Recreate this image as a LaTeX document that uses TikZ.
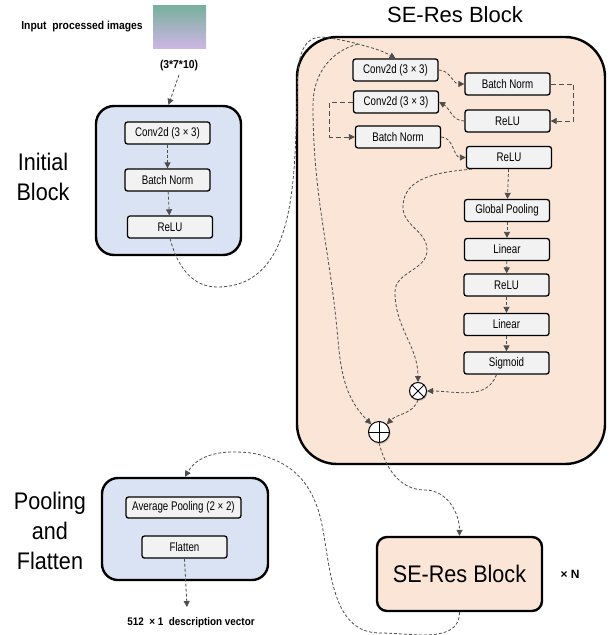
\documentclass[tikz,border=0pt]{standalone}
\usepackage{fontspec}
\setmainfont{Liberation Sans}
\newfontfamily\boxfont[FakeStretch=0.78]{Liberation Sans}
\newfontfamily\tagfont[FakeStretch=0.9]{Liberation Sans}
\usetikzlibrary{arrows.meta,shadows}
\definecolor{iniblue}{HTML}{DAE3F3}
\definecolor{sepeach}{HTML}{FBE5D6}
\definecolor{laygray}{HTML}{F2F2F2}
\definecolor{linkgray}{HTML}{4D4D4D}
\definecolor{imgtop}{HTML}{78B09C}
\definecolor{imgmid}{HTML}{A8B6C6}
\definecolor{imgbot}{HTML}{CCB6E4}

\begin{document}
\begin{tikzpicture}[x=1pt,y=-1pt,
  every node/.style={font=\boxfont\fontsize{12.5}{14}\selectfont},
  blk/.style={draw,line width=2.4pt,rounded corners=16pt,inner sep=0pt},
  lay/.style={draw,line width=1.3pt,rounded corners=2.5pt,fill=laygray,minimum width=85pt,minimum height=22pt,inner sep=0pt},
  flow/.style={linkgray,line width=0.8pt,dash pattern=on 3pt off 2pt,-{Triangle[length=6pt,width=6pt]}},
  op/.style={circle,draw,line width=1pt,fill=white,inner sep=0pt,drop shadow={opacity=0.35,shadow xshift=1pt,shadow yshift=-1.5pt}},
  big/.style={font=\tagfont\fontsize{24}{30}\selectfont,align=center},
  note/.style={font=\tagfont\bfseries\fontsize{11.5}{13}\selectfont}]
  \useasboundingbox (0,0) rectangle (614,635);

  % input
  \node[note] (inp) at (82,27) {Input\ \ processed images};
  \node[top color=imgtop,middle color=imgmid,bottom color=imgbot,minimum width=53pt,minimum height=43pt,inner sep=0pt] (img) at (179.5,26.5) {};
  \node[note] (dim) at (179,66) {(3*7*10)};

  % initial block
  \node[blk,fill=iniblue,minimum width=145pt,minimum height=149pt,rounded corners=18pt] (iniblk) at (168.5,180.5) {};
  \node[big] (initxt) at (43,177) {Initial\\Block};
  \node[lay] (iconv) at (167.5,133) {Conv2d (3 × 3)};
  \node[lay] (ibn) at (167.5,180) {Batch Norm};
  \node[lay] (irelu) at (170,227) {ReLU};

  % SE-Res block
  \node[font=\fontsize{22}{26}\selectfont] (setitle) at (455,15) {SE-Res Block};
  \node[blk,fill=sepeach,minimum width=308pt,minimum height=427pt,rounded corners=40pt] (seblk) at (451,250.5) {};
  \node[lay] (conv1) at (395.5,70) {Conv2d (3 × 3)};
  \node[lay] (bn1) at (507.5,84) {Batch Norm};
  \node[lay] (conv2) at (396,102) {Conv2d (3 × 3)};
  \node[lay] (relu1) at (507.5,121) {ReLU};
  \node[lay] (bn2) at (398,137) {Batch Norm};
  \node[lay] (relu2) at (509,157.5) {ReLU};
  \node[lay] (gpool) at (507,210.5) {Global Pooling};
  \node[lay] (lin1) at (507,249.5) {Linear};
  \node[lay] (relu3) at (506.5,285) {ReLU};
  \node[lay] (lin2) at (506.5,324.5) {Linear};
  \node[lay] (sigm) at (506.5,363) {Sigmoid};
  \node[op,minimum size=17pt] (times) at (418,391) {};
  \draw[line width=1pt] (times.north west) -- (times.south east) (times.north east) -- (times.south west);
  \node[op,minimum size=21pt] (plus) at (379,432) {};
  \draw[line width=1pt] (plus.north) -- (plus.south) (plus.west) -- (plus.east);

  % repeated blocks, pooling
  \node[blk,fill=sepeach,minimum width=165pt,minimum height=74pt,rounded corners=10pt,font=\tagfont\fontsize{24}{28}\selectfont] (sesmall) at (459.5,574) {SE-Res Block};
  \node[note,font=\bfseries\fontsize{12}{14}\selectfont] (rep) at (570,574) {× N};
  \node[blk,fill=iniblue,minimum width=166pt,minimum height=102pt] (poolblk) at (185,529) {};
  \node[big] (pooltxt) at (50,531) {Pooling\\and\\Flatten};
  \node[lay,minimum width=115pt,minimum height=21pt] (avgp) at (183.5,507.5) {Average Pooling (2 × 2)};
  \node[lay] (flat) at (184.5,547) {Flatten};
  \node[note,font=\tagfont\bfseries\fontsize{11}{13}\selectfont] (outtxt) at (191,623) {512\ \ × 1\ \ description vector};
  \coordinate (outend) at (187,607);
  \coordinate (split) at (358,44);

  % connectors
  \draw[flow] (dim.south) -- (iniblk.north);
  \draw[flow] (iconv) -- (ibn);
  \draw[flow] (ibn) -- (irelu);
  \draw[flow] (irelu.south) to[out=-75,in=180] (217,287) to[out=0,in=-92] (297,100)
    to[out=88,in=180] (322,37) to[out=-8,in=165] (split) to[out=-15,in=150] (conv1.north);
  \draw[flow] (split) to[out=195,in=90] (313,105) to[out=-90,in=95] (338,340) to[out=-85,in=135] (plus.north west);
  \draw[flow] (conv1.east) to[out=0,in=180] (bn1.west);
  \draw[flow,dash pattern=on 5pt off 3pt] (bn1.east) -- ++(23,0) |- (relu1.east);
  \draw[flow] (relu1.west) to[out=180,in=-30] (conv2.east);
  \draw[flow,dash pattern=on 5pt off 3pt] (conv2.west) -- ++(-23,0) |- (bn2.west);
  \draw[flow] (bn2.east) to[out=0,in=180] (relu2.west);
  \draw[flow] (relu2) -- (gpool);
  \draw[flow] (gpool) -- (lin1);
  \draw[flow] (lin1) -- (relu3);
  \draw[flow] (relu3) -- (lin2);
  \draw[flow] (lin2) -- (sigm);
  \draw[flow] ([xshift=6pt]relu2.south west) to[out=185,in=90] (403,207) to[out=-90,in=90] (427,250)
    to[out=-90,in=90] (395,292) to[out=-90,in=90] (times.north);
  \draw[flow] ([xshift=-10pt]sigm.south) to[out=-110,in=0] (times.east);
  \draw[flow] (times.south) to[out=-110,in=45] (plus.north east);
  \draw[flow] (plus.south) to[out=-75,in=180] (425,490) to[out=0,in=90] (sesmall.north);
  \draw[flow] (sesmall.south) to[out=-90,in=0] (380,633) to[out=180,in=-80] (323,530)
    to[out=100,in=-20] (270,458) to[out=160,in=0] (233,452) to[out=180,in=60] (poolblk.north);
  \draw[flow] (flat.south) -- (outend);
\end{tikzpicture}
\end{document}
